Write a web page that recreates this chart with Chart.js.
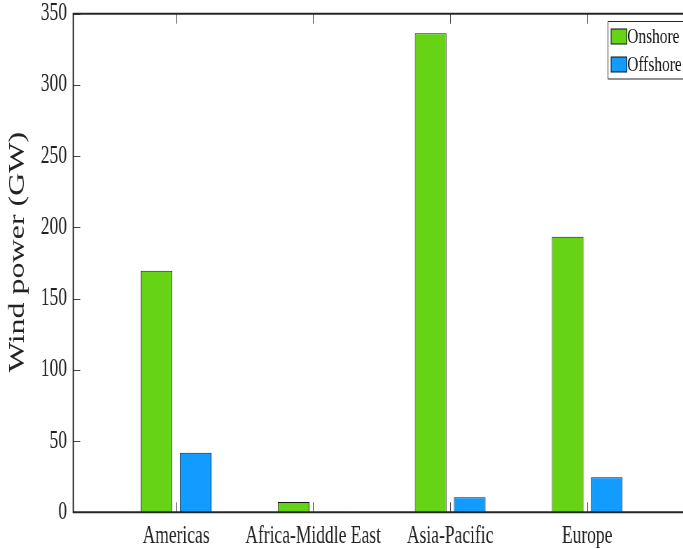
<!DOCTYPE html>
<html>
<head>
<meta charset="utf-8">
<title>Wind power by region</title>
<script src="https://cdn.jsdelivr.net/npm/chart.js@4/dist/chart.umd.min.js"></script>
<style>
  html, body { margin: 0; padding: 0; background: #fff; overflow: hidden; }
  #wrap { position: relative; width: 683px; height: 549px; overflow: hidden; }
  #wind { position: absolute; left: 0; top: 0; transform: scaleX(0.7); transform-origin: 0 0; }
</style>
</head>
<body>
<div id="wrap"><canvas id="wind" width="1000" height="549"></canvas></div>
<script>
//Data
const regions = ["Americas", "Africa-Middle East", "Asia-Pacific", "Europe"];
const onshore = [169.5, 7.2, 336.2, 193.5];
const offshore = [41.8, 0.3, 10.5, 24.6];
const yTicks = [0, 50, 100, 150, 200, 250, 300, 350];

const serif = "'Liberation Serif', 'Times New Roman', serif";

//------------------------------------------

//axes box, inward ticks, y title and legend (matlab look)
//the plot runs past the right edge of the window, like the original
const frame = {
  id: 'frame',
  afterDatasetsDraw(chart) {
    const {ctx, chartArea: {left, top, right, bottom}, scales: {x, y}} = chart;
    ctx.save();
    ctx.strokeStyle = '#444';
    ctx.lineWidth = 1;
    ctx.beginPath();
    regions.forEach((r, i) => {
      const px = Math.round(x.getPixelForValue(i + 1)) + 0.5;
      ctx.moveTo(px, bottom); ctx.lineTo(px, bottom - 10);
      ctx.moveTo(px, top); ctx.lineTo(px, top + 10);
    });
    yTicks.forEach(v => {
      const py = Math.round(y.getPixelForValue(v)) + 0.5;
      ctx.moveTo(left, py); ctx.lineTo(left + 10, py);
    });
    ctx.stroke();

    ctx.strokeStyle = '#262626';
    ctx.lineWidth = 2;
    ctx.beginPath();
    ctx.moveTo(right, top);
    ctx.lineTo(left, top);
    ctx.lineTo(left, bottom);
    ctx.lineTo(right, bottom);
    ctx.stroke();
    ctx.restore();
  },
  afterDraw(chart) {
    const {ctx, chartArea: {right}} = chart;
    ctx.save();
    // y axis title
    ctx.translate(26, 252);
    ctx.rotate(-Math.PI / 2);
    ctx.font = '32px ' + serif;
    ctx.fillStyle = '#222';
    ctx.textAlign = 'center';
    ctx.textBaseline = 'middle';
    ctx.fillText('Wind power (GW)', 0, 0);
    ctx.restore();

    // legend, cut by the window edge like the original
    ctx.save();
    ctx.fillStyle = '#fff';
    ctx.fillRect(868.5, 21.5, right - 868.5, 57.5);
    ctx.strokeStyle = '#262626';
    ctx.lineWidth = 1;
    ctx.beginPath();
    ctx.moveTo(right, 21.5);
    ctx.lineTo(868.5, 21.5);
    ctx.lineTo(868.5, 79);
    ctx.lineTo(right, 79);
    ctx.stroke();
    ctx.font = '22px ' + serif;
    ctx.textBaseline = 'middle';
    chart.data.datasets.forEach((ds, i) => {
      const yy = 29 + i * 28;
      ctx.fillStyle = ds.backgroundColor;
      ctx.fillRect(873, yy, 22.5, 15);
      ctx.strokeStyle = '#111';
      ctx.strokeRect(873, yy, 22.5, 15);
      ctx.fillStyle = '#111';
      ctx.fillText(ds.label, 896, yy + 8);
    });
    ctx.restore();
  }
};

//------------------------------------------

//Configurations
const config = {
  type: 'bar',
  data: {
    datasets: [
      {label: 'Onshore', data: onshore.map((v, i) => ({x: i + 1, y: v})),
       backgroundColor: '#66D414', borderColor: '#1a1a1a', borderWidth: 1},
      {label: 'Offshore', data: offshore.map((v, i) => ({x: i + 1, y: v})),
       backgroundColor: '#129CFF', borderColor: '#1a1a1a', borderWidth: 1}
    ]
  },
  options: {
    responsive: false,
    animation: false,
    devicePixelRatio: 1,
    categoryPercentage: 0.57,
    barPercentage: 0.81,
    layout: {padding: {top: 13.7, right: 14.3, bottom: 0, left: 0}},
    scales: {
      x: {
        type: 'linear',
        min: 0.25,
        max: 4.75,
        offset: false,
        grid: {display: false, drawTicks: false, offset: false},
        border: {display: false},
        afterBuildTicks: (scale) => { scale.ticks = regions.map((r, i) => ({value: i + 1})); },
        afterFit: (scale) => { scale.height = 36.7; scale.paddingLeft = 0; scale.paddingRight = 0; },
        ticks: {
          autoSkip: false,
          maxRotation: 0,
          padding: 9,
          color: '#222',
          font: {family: serif, size: 25},
          callback: (value) => regions[value - 1]
        }
      },
      y: {
        min: 0,
        max: 350,
        grid: {display: false, drawTicks: false},
        border: {display: false},
        afterBuildTicks: (scale) => { scale.ticks = yTicks.map(v => ({value: v})); },
        afterFit: (scale) => { scale.width = 104.7; scale.paddingTop = 0; scale.paddingBottom = 0; },
        ticks: {
          padding: 9,
          color: '#222',
          font: {family: serif, size: 25, lineHeight: 1}
        }
      }
    },
    plugins: {
      legend: {display: false},
      tooltip: {enabled: false}
    }
  },
  plugins: [frame]
};

//------------------------------------------

//Render bar chart
const windChart = new Chart(document.getElementById('wind'), config);
</script>
</body>
</html>
